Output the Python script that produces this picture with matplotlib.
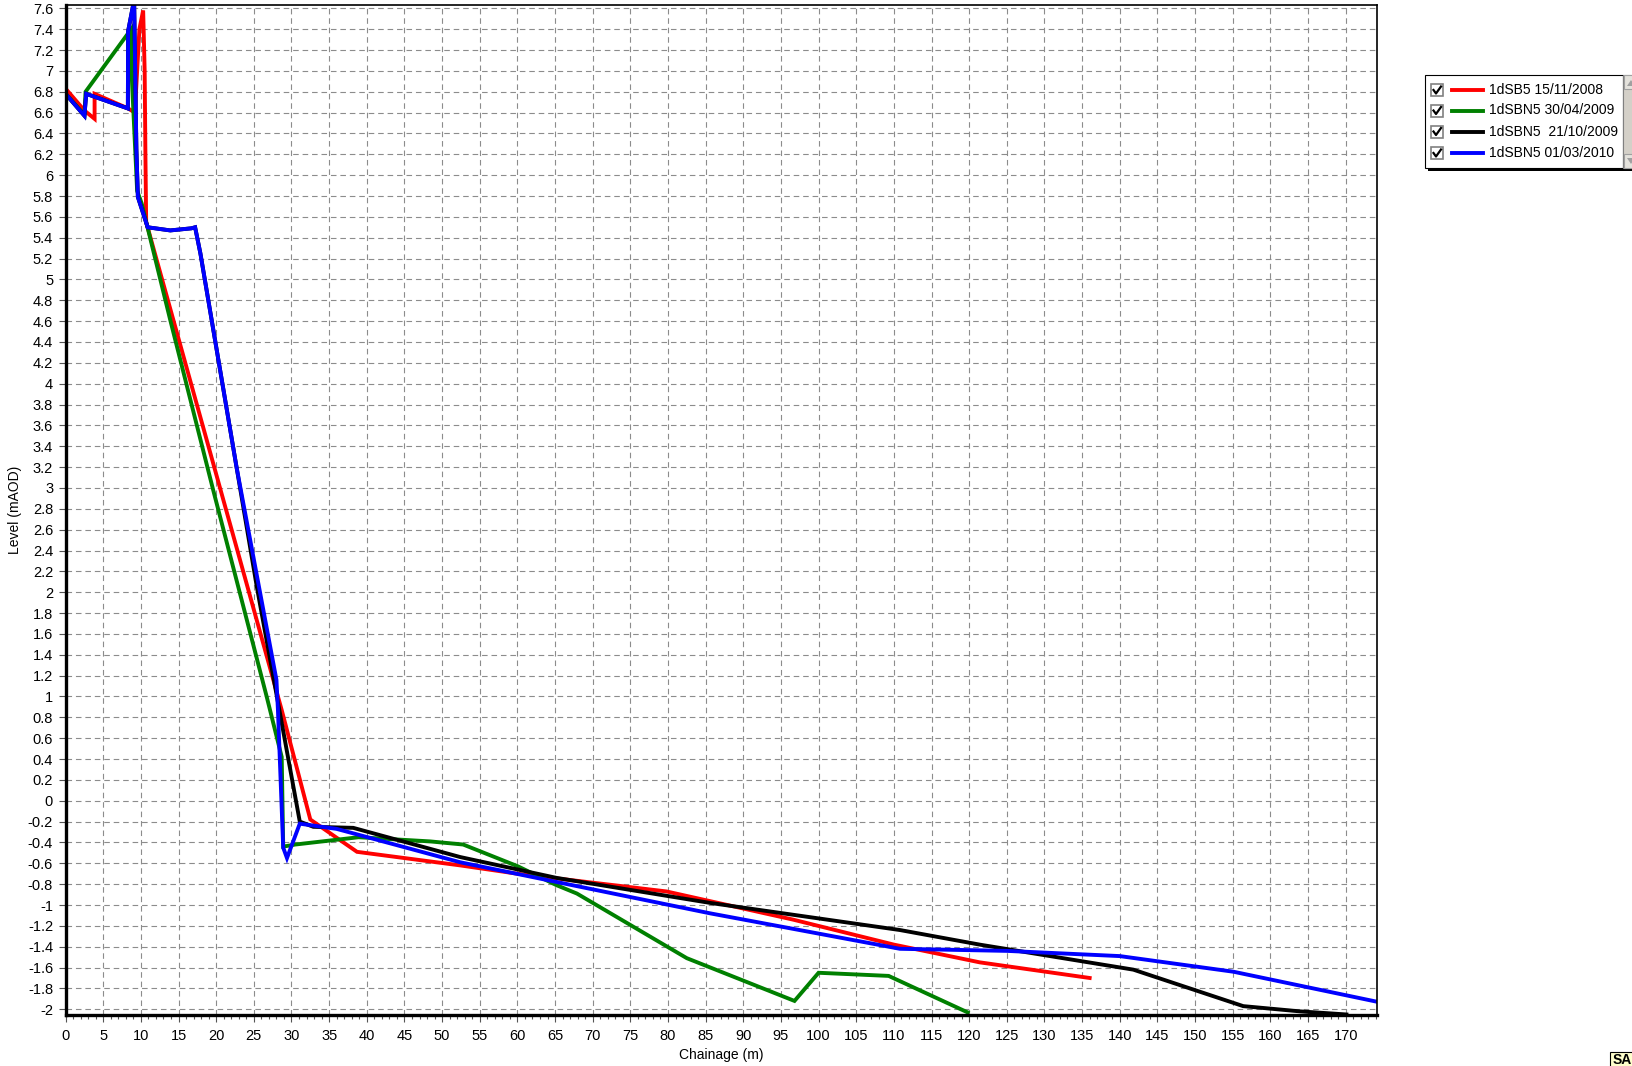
import matplotlib
matplotlib.use("Agg")
import matplotlib.pyplot as plt
from matplotlib.lines import Line2D
from matplotlib.patches import Rectangle, Polygon
from matplotlib.ticker import MultipleLocator, FuncFormatter

# Cross-section survey profiles (chainage in m, level in mAOD)
red_x = [0, 2.5, 3.85, 3.85, 8.3, 9.2, 9.8, 10.3, 10.5, 10.6, 10.7, 28.7, 32.5, 38.7, 52.4, 60, 79.8, 96.6, 110, 121.4, 136]
red_y = [6.83, 6.62, 6.54, 6.78, 6.64, 6.6, 7.4, 7.58, 7.0, 6.2, 5.55, 0.87, -0.18, -0.49, -0.62, -0.70, -0.87, -1.14, -1.38, -1.55, -1.70]

green_x = [0, 2.5, 2.65, 8.3, 8.7, 8.75, 9.5, 10.1, 13.9, 19.6, 26.7, 28.7, 28.9, 30.5, 38.9, 48.4, 52.8, 60.1, 65.2, 67.9, 82.5, 96.8, 100, 109.3, 119.8]
green_y = [6.78, 6.58, 6.8, 7.36, 7.4, 7.0, 5.85, 5.73, 4.61, 2.98, 1.0, 0.42, -0.44, -0.42, -0.35, -0.39, -0.42, -0.63, -0.81, -0.89, -1.51, -1.92, -1.65, -1.68, -2.03]

black_x = [0, 2.5, 2.74, 8.27, 8.3, 9.1, 9.4, 9.6, 10.9, 13.9, 16.7, 17.2, 17.9, 22.7, 25.4, 31.1, 32.9, 38.2, 52.4, 65.2, 85.6, 110.8, 121.4, 141.8, 156.4, 163.9, 170.1]
black_y = [6.78, 6.57, 6.78, 6.64, 7.38, 7.68, 6.25, 5.79, 5.5, 5.47, 5.49, 5.5, 5.25, 3.2, 2.05, -0.2, -0.25, -0.26, -0.54, -0.74, -0.98, -1.24, -1.38, -1.62, -1.97, -2.02, -2.05]

blue_x = [0, 2.5, 2.74, 8.27, 8.3, 9.1, 9.4, 9.6, 10.9, 13.9, 16.7, 17.2, 17.9, 22.7, 28.0, 28.2, 28.9, 29.4, 31.1, 36.0, 52.4, 85.6, 110.8, 125, 140, 155.1, 174.3]
blue_y = [6.78, 6.57, 6.78, 6.64, 7.38, 7.68, 6.25, 5.79, 5.5, 5.47, 5.49, 5.5, 5.25, 3.2, 1.16, 0.87, -0.45, -0.55, -0.22, -0.27, -0.59, -1.08, -1.42, -1.44, -1.49, -1.64, -1.93]

series_labels = ["1dSB5 15/11/2008", "1dSBN5 30/04/2009", "1dSBN5  21/10/2009", "1dSBN5 01/03/2010"]
series_colors = ["#ff0000", "#008000", "#000000", "#0000ff"]

W, H = 1633, 1066
FONT = "Liberation Sans"


def fx(px):
    return px / W


def fy(py):
    return 1 - py / H


fig = plt.figure(figsize=(W / 100, H / 100), dpi=100)
fig.patch.set_facecolor("white")
ax = fig.add_axes([fx(65.6), fy(1015), fx(1377.3) - fx(65.6), fy(5) - fy(1015)])

for xs, ys, col in zip([red_x, green_x, black_x, blue_x], [red_y, green_y, black_y, blue_y], series_colors):
    ax.plot(xs, ys, color=col, lw=2.8, solid_joinstyle="miter")

ax.set_xlim(0, 174.2)
ax.set_ylim(-2.055, 7.632)

ax.xaxis.set_major_locator(MultipleLocator(5))
ax.xaxis.set_minor_locator(MultipleLocator(1))
ax.yaxis.set_major_locator(MultipleLocator(0.2))
ax.yaxis.set_major_formatter(FuncFormatter(lambda v, p: "%g" % round(v, 1)))
ax.xaxis.set_major_formatter(FuncFormatter(lambda v, p: "%g" % v))

ax.grid(True, which="major", color="#8c8c8c", lw=0.8, linestyle=(0, (5, 3.5)))
ax.set_axisbelow(True)

ax.tick_params(axis="both", which="major", direction="out", length=5, width=0.8,
               labelsize=10.5, pad=4, color="#555555")
ax.tick_params(axis="x", which="minor", direction="out", length=3, width=0.8, color="#555555")
for lab in ax.get_xticklabels() + ax.get_yticklabels():
    lab.set_fontfamily(FONT)
ax.tick_params(axis="x", pad=5)

for side in ["left", "bottom"]:
    ax.spines[side].set_linewidth(2.4)
for side in ["top", "right"]:
    ax.spines[side].set_linewidth(1.2)

ax.set_xlabel("Chainage (m)", fontsize=10, fontfamily=FONT, labelpad=4)
ax.set_ylabel("Level (mAOD)", fontsize=10, fontfamily=FONT, labelpad=4)

# series key box with check boxes and a scroll bar, as drawn by the viewer
fig.patches.append(Rectangle((fx(1428), fy(171)), fx(1633) - fx(1428), fy(78) - fy(171),
                             transform=fig.transFigure, facecolor="#000000", edgecolor="none", zorder=5))
fig.patches.append(Rectangle((fx(1425), fy(168)), fx(1623) - fx(1425), fy(75) - fy(168),
                             transform=fig.transFigure, facecolor="white", edgecolor="black", lw=0.8, zorder=6))
fig.patches.append(Rectangle((fx(1623), fy(168)), fx(1640) - fx(1623), fy(75) - fy(168),
                             transform=fig.transFigure, facecolor="#d4d0c8", edgecolor="#808080", lw=0.8, zorder=6))
for top in [75, 154]:
    fig.patches.append(Rectangle((fx(1624), fy(top + 14)), fx(1640) - fx(1624), fy(top) - fy(top + 14),
                                 transform=fig.transFigure, facecolor="#e4e2dc", edgecolor="#a0a0a0", lw=0.8, zorder=7))
fig.patches.append(Polygon([(fx(1627), fy(86)), (fx(1631), fy(80)), (fx(1635), fy(86))],
                           transform=fig.transFigure, facecolor="#a0a0a0", edgecolor="none", zorder=8))
fig.patches.append(Polygon([(fx(1627), fy(158)), (fx(1631), fy(164)), (fx(1635), fy(158))],
                           transform=fig.transFigure, facecolor="#a0a0a0", edgecolor="none", zorder=8))

rows = [90, 110.5, 131.5, 153]
for row, lab, col in zip(rows, series_labels, series_colors):
    fig.patches.append(Rectangle((fx(1431), fy(row + 6)), fx(1443) - fx(1431), fy(row - 6) - fy(row + 6),
                                 transform=fig.transFigure, facecolor="white", edgecolor="#808080", lw=1.2, zorder=7))
    fig.lines.append(Line2D([fx(1433.5), fx(1436), fx(1441)], [fy(row), fy(row + 3.5), fy(row - 3.5)],
                            transform=fig.transFigure, color="black", lw=1.6, zorder=8))
    fig.lines.append(Line2D([fx(1452), fx(1483)], [fy(row), fy(row)], transform=fig.transFigure,
                            color=col, lw=2.8, zorder=8))
    fig.text(fx(1489), fy(row), lab, fontsize=10, fontfamily=FONT, va="center", ha="left", zorder=8)

# status badge in the corner
fig.patches.append(Rectangle((fx(1610), fy(1070)), fx(1640) - fx(1610), fy(1052) - fy(1070),
                             transform=fig.transFigure, facecolor="#ffffcc", edgecolor="black", lw=0.8, zorder=6))
fig.text(fx(1613), fy(1060), "SA", fontsize=10, fontweight="bold", fontfamily=FONT,
         va="center", ha="left", zorder=7)

fig.savefig("out.png", dpi=100)
